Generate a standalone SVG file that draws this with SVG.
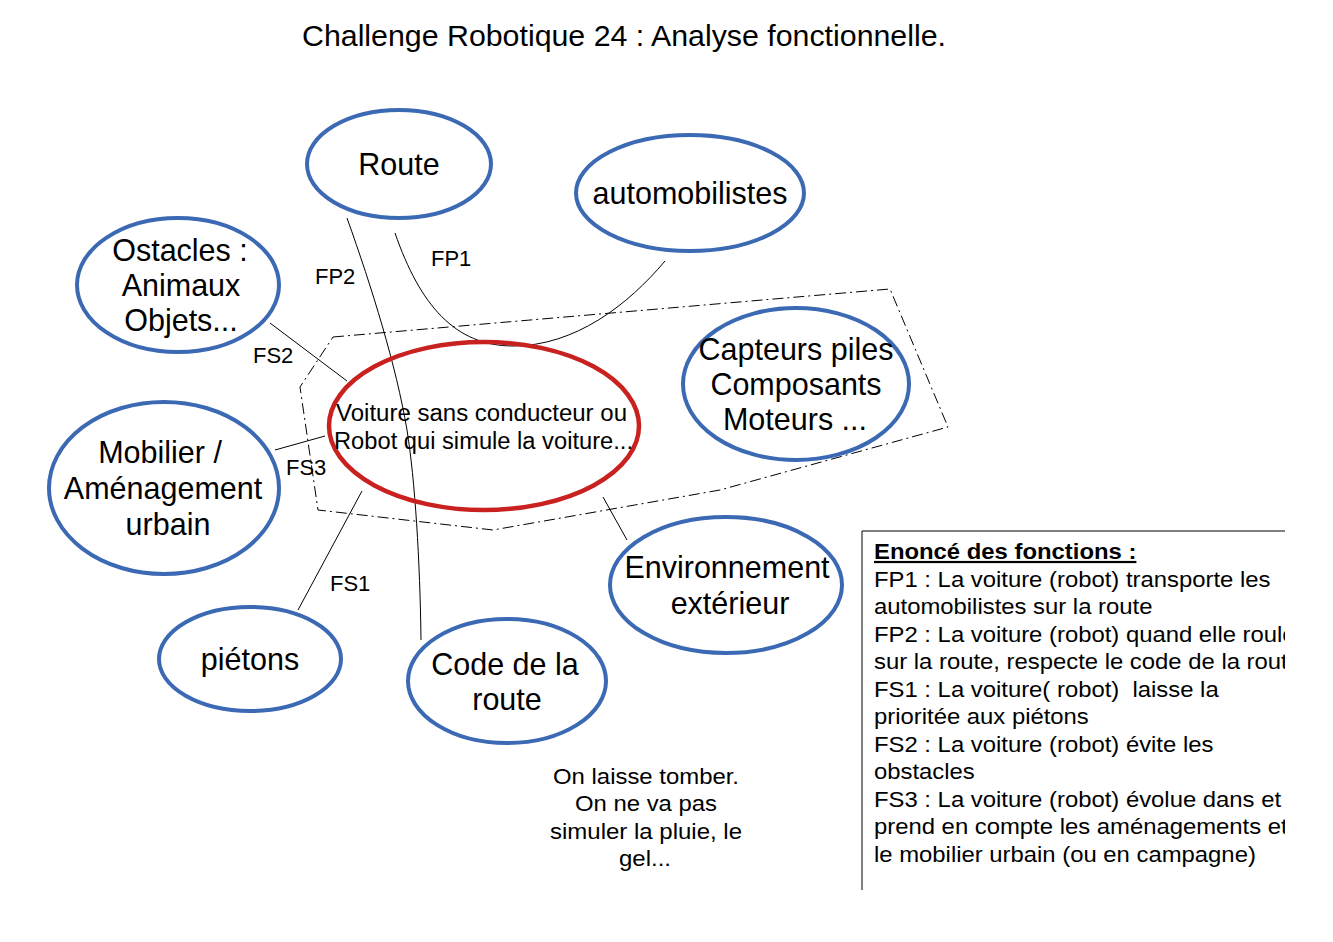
<svg xmlns="http://www.w3.org/2000/svg" width="1333" height="942" viewBox="0 0 1333 942">
<style>
text{font-family:"Liberation Sans",Arial,sans-serif;fill:#000}
.node{fill:#fff;stroke:#3b69b3;stroke-width:4}
.main{fill:none;stroke:#c8211f;stroke-width:4.5}
.lbl{font-size:30.5px;text-anchor:middle}
.conn{fill:none;stroke:#000;stroke-width:1}
.cl{font-size:22px}
.box{font-size:22px}
</style>
<defs>
<clipPath id="boxclip"><rect x="862" y="520" width="423" height="380"/></clipPath>
</defs>
<rect width="1333" height="942" fill="#fff"/>
<text x="302" y="46" style="font-size:30px" textLength="644" lengthAdjust="spacingAndGlyphs">Challenge Robotique 24 : Analyse fonctionnelle.</text>

<g id="boundary">
<path d="M333,337 L890,289 L948,427 L720,490 L493,530 L318,510 L300,387 Z" fill="none" stroke="#000" stroke-width="1" stroke-dasharray="11,4,2,4"/>
</g>

<g id="route"><ellipse class="node" cx="399" cy="164" rx="92" ry="54"/><text class="lbl" x="399" y="175">Route</text></g>
<g id="automobilistes"><ellipse class="node" cx="690" cy="193" rx="114" ry="58"/><text class="lbl" x="690" y="204">automobilistes</text></g>
<g id="obstacles"><ellipse class="node" cx="178" cy="285" rx="101" ry="67"/>
<text class="lbl" x="180" y="261">Ostacles :</text><text class="lbl" x="181" y="296">Animaux</text><text class="lbl" x="181" y="331">Objets...</text></g>
<g id="capteurs"><ellipse class="node" cx="796" cy="384" rx="113" ry="76"/>
<text class="lbl" x="796" y="360">Capteurs piles</text><text class="lbl" x="796" y="395">Composants</text><text class="lbl" x="795" y="430">Moteurs ...</text></g>
<g id="mobilier"><ellipse class="node" cx="164" cy="488" rx="115" ry="86"/>
<text class="lbl" x="160" y="463">Mobilier /</text><text class="lbl" x="163" y="499">Aménagement</text><text class="lbl" x="168" y="535">urbain</text></g>
<g id="environnement"><ellipse class="node" cx="726" cy="585" rx="116" ry="68"/>
<text class="lbl" x="727" y="578">Environnement</text><text class="lbl" x="730" y="614">extérieur</text></g>
<g id="pietons"><ellipse class="node" cx="250" cy="659" rx="91" ry="52"/><text class="lbl" x="250" y="670">piétons</text></g>
<g id="code"><ellipse class="node" cx="507" cy="681" rx="99" ry="62"/>
<text class="lbl" x="505" y="675">Code de la</text><text class="lbl" x="507" y="710">route</text></g>

<g id="voiture"><ellipse fill="#fff" stroke="none" cx="484" cy="426" rx="155" ry="84"/></g>

<g id="connectors">
<path class="conn" d="M347,218 C372,288 396,365 407,430 C415,480 420,560 421,640"/>
<path class="conn" d="M395,233 C420,305 455,346 513,346 C575,346 628,305 665,261"/>
<path class="conn" d="M270,323 L347,381"/>
<path class="conn" d="M275,450 L325,436"/>
<path class="conn" d="M298,610 L362,491"/>
<path class="conn" d="M603,497 L627,540"/>
<text class="cl" x="315" y="284">FP2</text>
<text class="cl" x="431" y="266">FP1</text>
<text class="cl" x="253" y="363">FS2</text>
<text class="cl" x="286" y="475">FS3</text>
<text class="cl" x="330" y="591">FS1</text>
</g>

<g id="voiture-outline"><ellipse class="main" cx="484" cy="426" rx="155" ry="84"/>
<text x="336" y="421" style="font-size:23px" textLength="291" lengthAdjust="spacingAndGlyphs">Voiture sans conducteur ou</text>
<text x="334" y="449" style="font-size:23px" textLength="299" lengthAdjust="spacingAndGlyphs">Robot qui simule la voiture...</text></g>

<g id="note">
<text x="553" y="784" class="cl" textLength="186" lengthAdjust="spacingAndGlyphs">On laisse tomber.</text>
<text x="575" y="811" class="cl" textLength="142" lengthAdjust="spacingAndGlyphs">On ne va pas</text>
<text x="550" y="839" class="cl" textLength="192" lengthAdjust="spacingAndGlyphs">simuler la pluie, le</text>
<text x="619" y="866" class="cl" textLength="52" lengthAdjust="spacingAndGlyphs">gel...</text>
</g>

<g id="functions">
<path d="M1285,531 L862,531 L862,890" fill="none" stroke="#000" stroke-width="1"/>
<g clip-path="url(#boxclip)">
<g transform="translate(874,0) scale(1.085,1) translate(-874,0)">
<text x="874" y="559" class="box" font-weight="bold" text-decoration="underline">Enoncé des fonctions :</text>
<text x="874" y="587" class="box">FP1 : La voiture (robot) transporte les</text>
<text x="874" y="614" class="box">automobilistes sur la route</text>
<text x="874" y="642" class="box">FP2 : La voiture (robot) quand elle roule</text>
<text x="874" y="669" class="box">sur la route, respecte le code de la route</text>
<text x="874" y="697" class="box" style="white-space:pre">FS1 : La voiture( robot)  laisse la</text>
<text x="874" y="724" class="box">prioritée aux piétons</text>
<text x="874" y="752" class="box">FS2 : La voiture (robot) évite les</text>
<text x="874" y="779" class="box">obstacles</text>
<text x="874" y="807" class="box">FS3 : La voiture (robot) évolue dans et</text>
<text x="874" y="834" class="box">prend en compte les aménagements et</text>
<text x="874" y="862" class="box">le mobilier urbain (ou en campagne)</text>
</g>
</g>
</g>
</svg>
